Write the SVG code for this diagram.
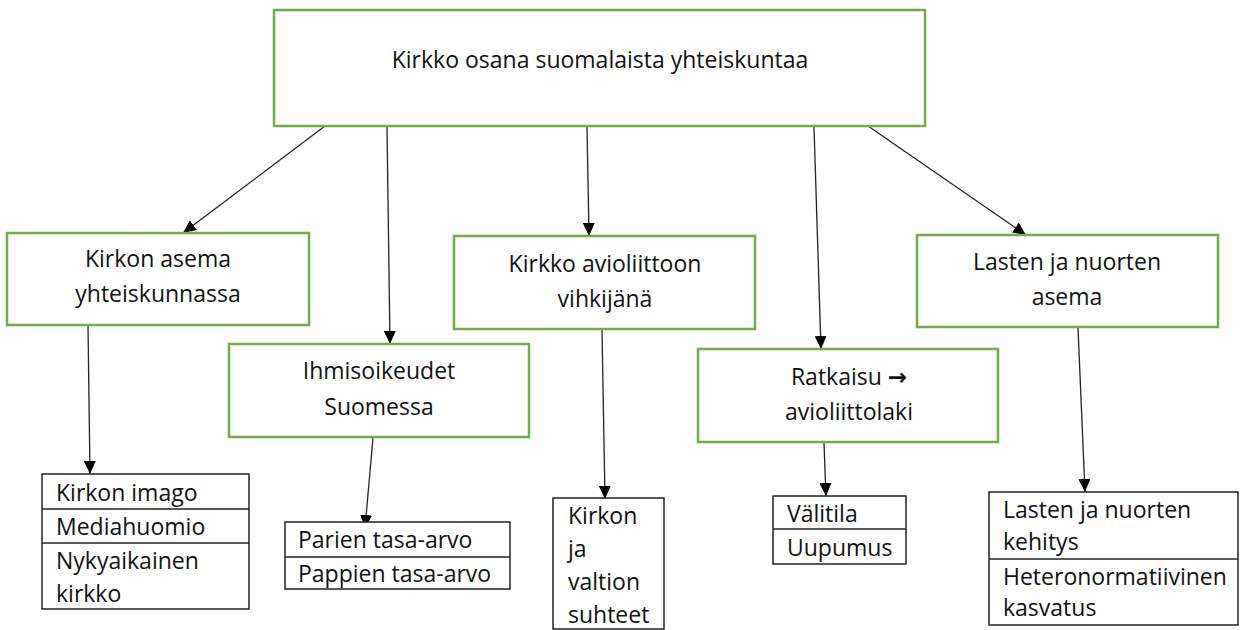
<svg xmlns="http://www.w3.org/2000/svg" width="1242" height="630" viewBox="0 0 1242 630">
<defs>
<style>
.box{fill:#fff;stroke:#70AD47;stroke-width:2.5}
.tbl{fill:#fff;stroke:#222;stroke-width:1.5}
.sep{stroke:#222;stroke-width:1.5}
.lbl{font-family:"Open Sans","Noto Sans",sans-serif;font-size:23px;fill:#111}
.mid{text-anchor:middle}
.arr{font-family:"DejaVu Sans",sans-serif;font-weight:bold}
.con{stroke:#222;stroke-width:1.3;fill:none;marker-end:url(#ah)}
</style>
<marker id="ah" markerUnits="userSpaceOnUse" markerWidth="13" markerHeight="12" refX="13" refY="6" orient="auto">
<path d="M0,0 L13,6 L0,12 Z" fill="#000"/>
</marker>
</defs>
<rect width="1242" height="630" fill="#fff"/>
<g id="connectors">
<line class="con" x1="325" y1="126" x2="183" y2="233"/>
<line class="con" x1="387" y1="127" x2="390" y2="344"/>
<line class="con" x1="587" y1="127" x2="589" y2="236"/>
<line class="con" x1="814" y1="127" x2="821" y2="349"/>
<line class="con" x1="868" y1="126" x2="1026" y2="235"/>
<line class="con" x1="88" y1="326" x2="90" y2="474"/>
<line class="con" x1="373" y1="438" x2="365" y2="528"/>
<line class="con" x1="602" y1="330" x2="605" y2="499"/>
<line class="con" x1="824" y1="443" x2="826" y2="496"/>
<line class="con" x1="1078" y1="328" x2="1085" y2="492"/>
</g>
<g id="root">
<rect class="box" x="274" y="10" width="651" height="116"/>
<text class="lbl mid" x="600" y="68">Kirkko osana suomalaista yhteiskuntaa</text>
</g>
<g id="kirkon-asema">
<rect class="box" x="7" y="233" width="302" height="92"/>
<text class="lbl mid" x="158" y="267">Kirkon asema</text>
<text class="lbl mid" x="158" y="302">yhteiskunnassa</text>
</g>
<g id="ihmisoikeudet">
<rect class="box" x="229" y="344" width="300" height="93"/>
<text class="lbl mid" x="379" y="379">Ihmisoikeudet</text>
<text class="lbl mid" x="379" y="415">Suomessa</text>
</g>
<g id="avioliitto">
<rect class="box" x="454" y="236" width="301" height="93"/>
<text class="lbl mid" x="605" y="272">Kirkko avioliittoon</text>
<text class="lbl mid" x="605" y="307">vihkijänä</text>
</g>
<g id="ratkaisu">
<rect class="box" x="698" y="349" width="300" height="93"/>
<text class="lbl mid" x="849" y="385">Ratkaisu <tspan class="arr">→</tspan></text>
<text class="lbl mid" x="849" y="420">avioliittolaki</text>
</g>
<g id="lasten-asema">
<rect class="box" x="917" y="235" width="301" height="92"/>
<text class="lbl mid" x="1067" y="270">Lasten ja nuorten</text>
<text class="lbl mid" x="1067" y="305">asema</text>
</g>
<g id="tbl-kirkon">
<rect class="tbl" x="42" y="474" width="207" height="135"/>
<line class="sep" x1="42" y1="509" x2="249" y2="509"/>
<line class="sep" x1="42" y1="543" x2="249" y2="543"/>
<text class="lbl" x="56" y="501">Kirkon imago</text>
<text class="lbl" x="56" y="535">Mediahuomio</text>
<text class="lbl" x="56" y="569">Nykyaikainen</text>
<text class="lbl" x="56" y="602">kirkko</text>
</g>
<g id="tbl-tasa-arvo">
<rect class="tbl" x="285" y="522" width="225" height="67"/>
<line class="sep" x1="285" y1="557" x2="510" y2="557"/>
<text class="lbl" x="298" y="548">Parien tasa-arvo</text>
<text class="lbl" x="298" y="582">Pappien tasa-arvo</text>
</g>
<g id="tbl-valtio">
<rect class="tbl" x="553" y="498" width="111" height="131"/>
<text class="lbl" x="568" y="524">Kirkon</text>
<text class="lbl" x="568" y="557">ja</text>
<text class="lbl" x="568" y="590">valtion</text>
<text class="lbl" x="568" y="623">suhteet</text>
</g>
<g id="tbl-valitila">
<rect class="tbl" x="773" y="496" width="133" height="68"/>
<line class="sep" x1="773" y1="529" x2="906" y2="529"/>
<text class="lbl" x="787" y="522">Välitila</text>
<text class="lbl" x="787" y="556">Uupumus</text>
</g>
<g id="tbl-lasten">
<rect class="tbl" x="989" y="492" width="249" height="133"/>
<line class="sep" x1="989" y1="559" x2="1238" y2="559"/>
<text class="lbl" x="1003" y="518">Lasten ja nuorten</text>
<text class="lbl" x="1003" y="550">kehitys</text>
<text class="lbl" x="1003" y="585">Heteronormatiivinen</text>
<text class="lbl" x="1003" y="616">kasvatus</text>
</g>
</svg>
